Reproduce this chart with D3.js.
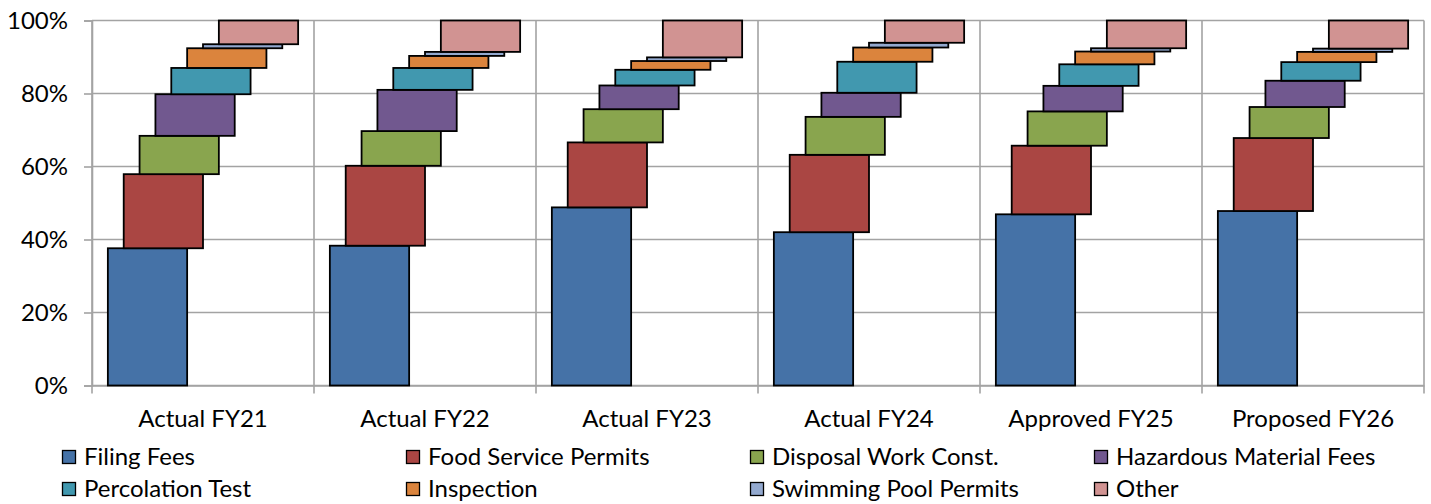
<!DOCTYPE html>
<html>
<head>
<meta charset="utf-8">
<script src="https://cdn.jsdelivr.net/npm/d3@7"></script>
<style>
  html, body { margin: 0; padding: 0; background: #fff; }
  svg { display: block; font-family: Lato, "Open Sans", sans-serif; }
</style>
</head>
<body>
<svg id="chart" width="1431" height="504"></svg>
<script>
// Fiscal years shown on the x axis
const categories = ["Actual FY21", "Actual FY22", "Actual FY23", "Actual FY24", "Approved FY25", "Proposed FY26"];

// Revenue share of each source, percent of the yearly total
const filingFees       = [37.6, 38.3, 48.8, 42.0, 46.9, 47.8];
const foodService      = [20.3, 21.9, 17.8, 21.2, 18.8, 20.0];
const disposalWork     = [10.5,  9.5,  9.1, 10.4,  9.4,  8.5];
const hazardous        = [11.4, 11.3,  6.5,  6.6,  7.0,  7.2];
const percolation      = [ 7.2,  6.0,  4.3,  8.5,  5.9,  5.1];
const inspection       = [ 5.4,  3.3,  2.4,  3.9,  3.5,  2.8];
const swimmingPool     = [ 1.1,  1.1,  1.0,  1.3,  0.9,  0.9];
const other            = [ 6.5,  8.6, 10.1,  6.1,  7.6,  7.7];

const seriesNames = ["Filing Fees", "Food Service Permits", "Disposal Work Const.", "Hazardous Material Fees",
                     "Percolation Test", "Inspection", "Swimming Pool Permits", "Other"];
const seriesValues = [filingFees, foodService, disposalWork, hazardous, percolation, inspection, swimmingPool, other];
const seriesColors = ["#4572A7", "#AA4643", "#89A54E", "#71588F", "#4198AF", "#DB843D", "#93A9CF", "#D19392"];

// y axis tick values
const yTicks = [0, 20, 40, 60, 80, 100];

// Rows for d3.stack: one object per fiscal year
const rows = categories.map((c, i) => {
  const r = { category: c };
  seriesNames.forEach((s, j) => { r[s] = seriesValues[j][i]; });
  return r;
});

const svg = d3.select("#chart");
const W = 1431, H = 504;
const margin = { top: 20.5, right: 7, bottom: 118.5, left: 92 };
const x0 = margin.left, x1 = W - margin.right;
const yTop = margin.top, yBot = H - margin.bottom;

const x = d3.scaleBand().domain(categories).range([x0, x1]).paddingInner(0).paddingOuter(0);
const y = d3.scaleLinear().domain([0, 100]).range([yBot, yTop]);

// Overlapped clustered columns: 80% overlap, 40% gap width
const overlap = 0.8, gapWidth = 0.4, n = seriesNames.length;
const barW = x.bandwidth() / (n - (n - 1) * overlap + gapWidth);
const step = barW * (1 - overlap);
const xs = d3.scalePoint().domain(seriesNames).range([0, (n - 1) * step]);
const lead = barW * gapWidth / 2;

const stacked = d3.stack().keys(seriesNames)(rows);

const gridColor = "#a3a3a3";

// Horizontal gridlines
svg.append("g").selectAll("line").data(yTicks).join("line")
  .attr("x1", x0).attr("x2", x1)
  .attr("y1", d => y(d)).attr("y2", d => y(d))
  .attr("stroke", gridColor).attr("stroke-width", 1.6);

// Vertical gridlines at category boundaries
const bounds = categories.map(c => x(c)).concat([x1]);
svg.append("g").selectAll("line").data(bounds).join("line")
  .attr("x1", d => d).attr("x2", d => d)
  .attr("y1", yTop).attr("y2", yBot + 8)
  .attr("stroke", gridColor).attr("stroke-width", 1.6);

// Y axis
const yAxis = d3.axisLeft(y).tickValues(yTicks).tickFormat(d => d + "%").tickSize(8).tickPadding(16);
const gy = svg.append("g").attr("transform", `translate(${x0},0)`).call(yAxis);
gy.select(".domain").attr("stroke", gridColor).attr("stroke-width", 1.6);
gy.selectAll(".tick line").attr("stroke", gridColor).attr("stroke-width", 1.6);
gy.selectAll(".tick text").attr("font-size", 24).attr("font-family", "Lato").attr("fill", "#000");

// X axis baseline and category labels
const xAxis = d3.axisBottom(x).tickSize(0).tickPadding(24);
const gx = svg.append("g").attr("transform", `translate(0,${yBot})`).call(xAxis);
gx.select(".domain").attr("stroke", gridColor).attr("stroke-width", 1.6);
gx.selectAll(".tick text").attr("font-size", 24).attr("font-family", "Lato").attr("fill", "#000");

// Floating stacked bars, each series shifted right within its year
svg.append("g").selectAll("g").data(stacked).join("g")
  .attr("fill", (d, i) => seriesColors[i])
  .each(function (layer) {
    d3.select(this).selectAll("rect").data(layer).join("rect")
      .attr("x", d => x(d.data.category) + lead + xs(layer.key))
      .attr("y", d => y(d[1]))
      .attr("width", barW)
      .attr("height", d => y(d[0]) - y(d[1]))
      .attr("stroke", "#000").attr("stroke-width", 1.8);
  });

// Legend: two rows of four
const legendX = [62, 406, 750, 1094];
const legendY = [457, 489];
const lg = svg.append("g").selectAll("g").data(seriesNames).join("g")
  .attr("transform", (d, i) => `translate(${legendX[i % 4]},${legendY[Math.floor(i / 4)]})`);
lg.append("rect").attr("x", 0.5).attr("y", -6.5).attr("width", 13).attr("height", 13)
  .attr("fill", (d, i) => seriesColors[i]).attr("stroke", "#000").attr("stroke-width", 1.3);
lg.append("text").attr("x", 22).attr("dy", "0.35em")
  .attr("font-size", 24).attr("font-family", "Lato").attr("fill", "#000")
  .text(d => d);
</script>
</body>
</html>
